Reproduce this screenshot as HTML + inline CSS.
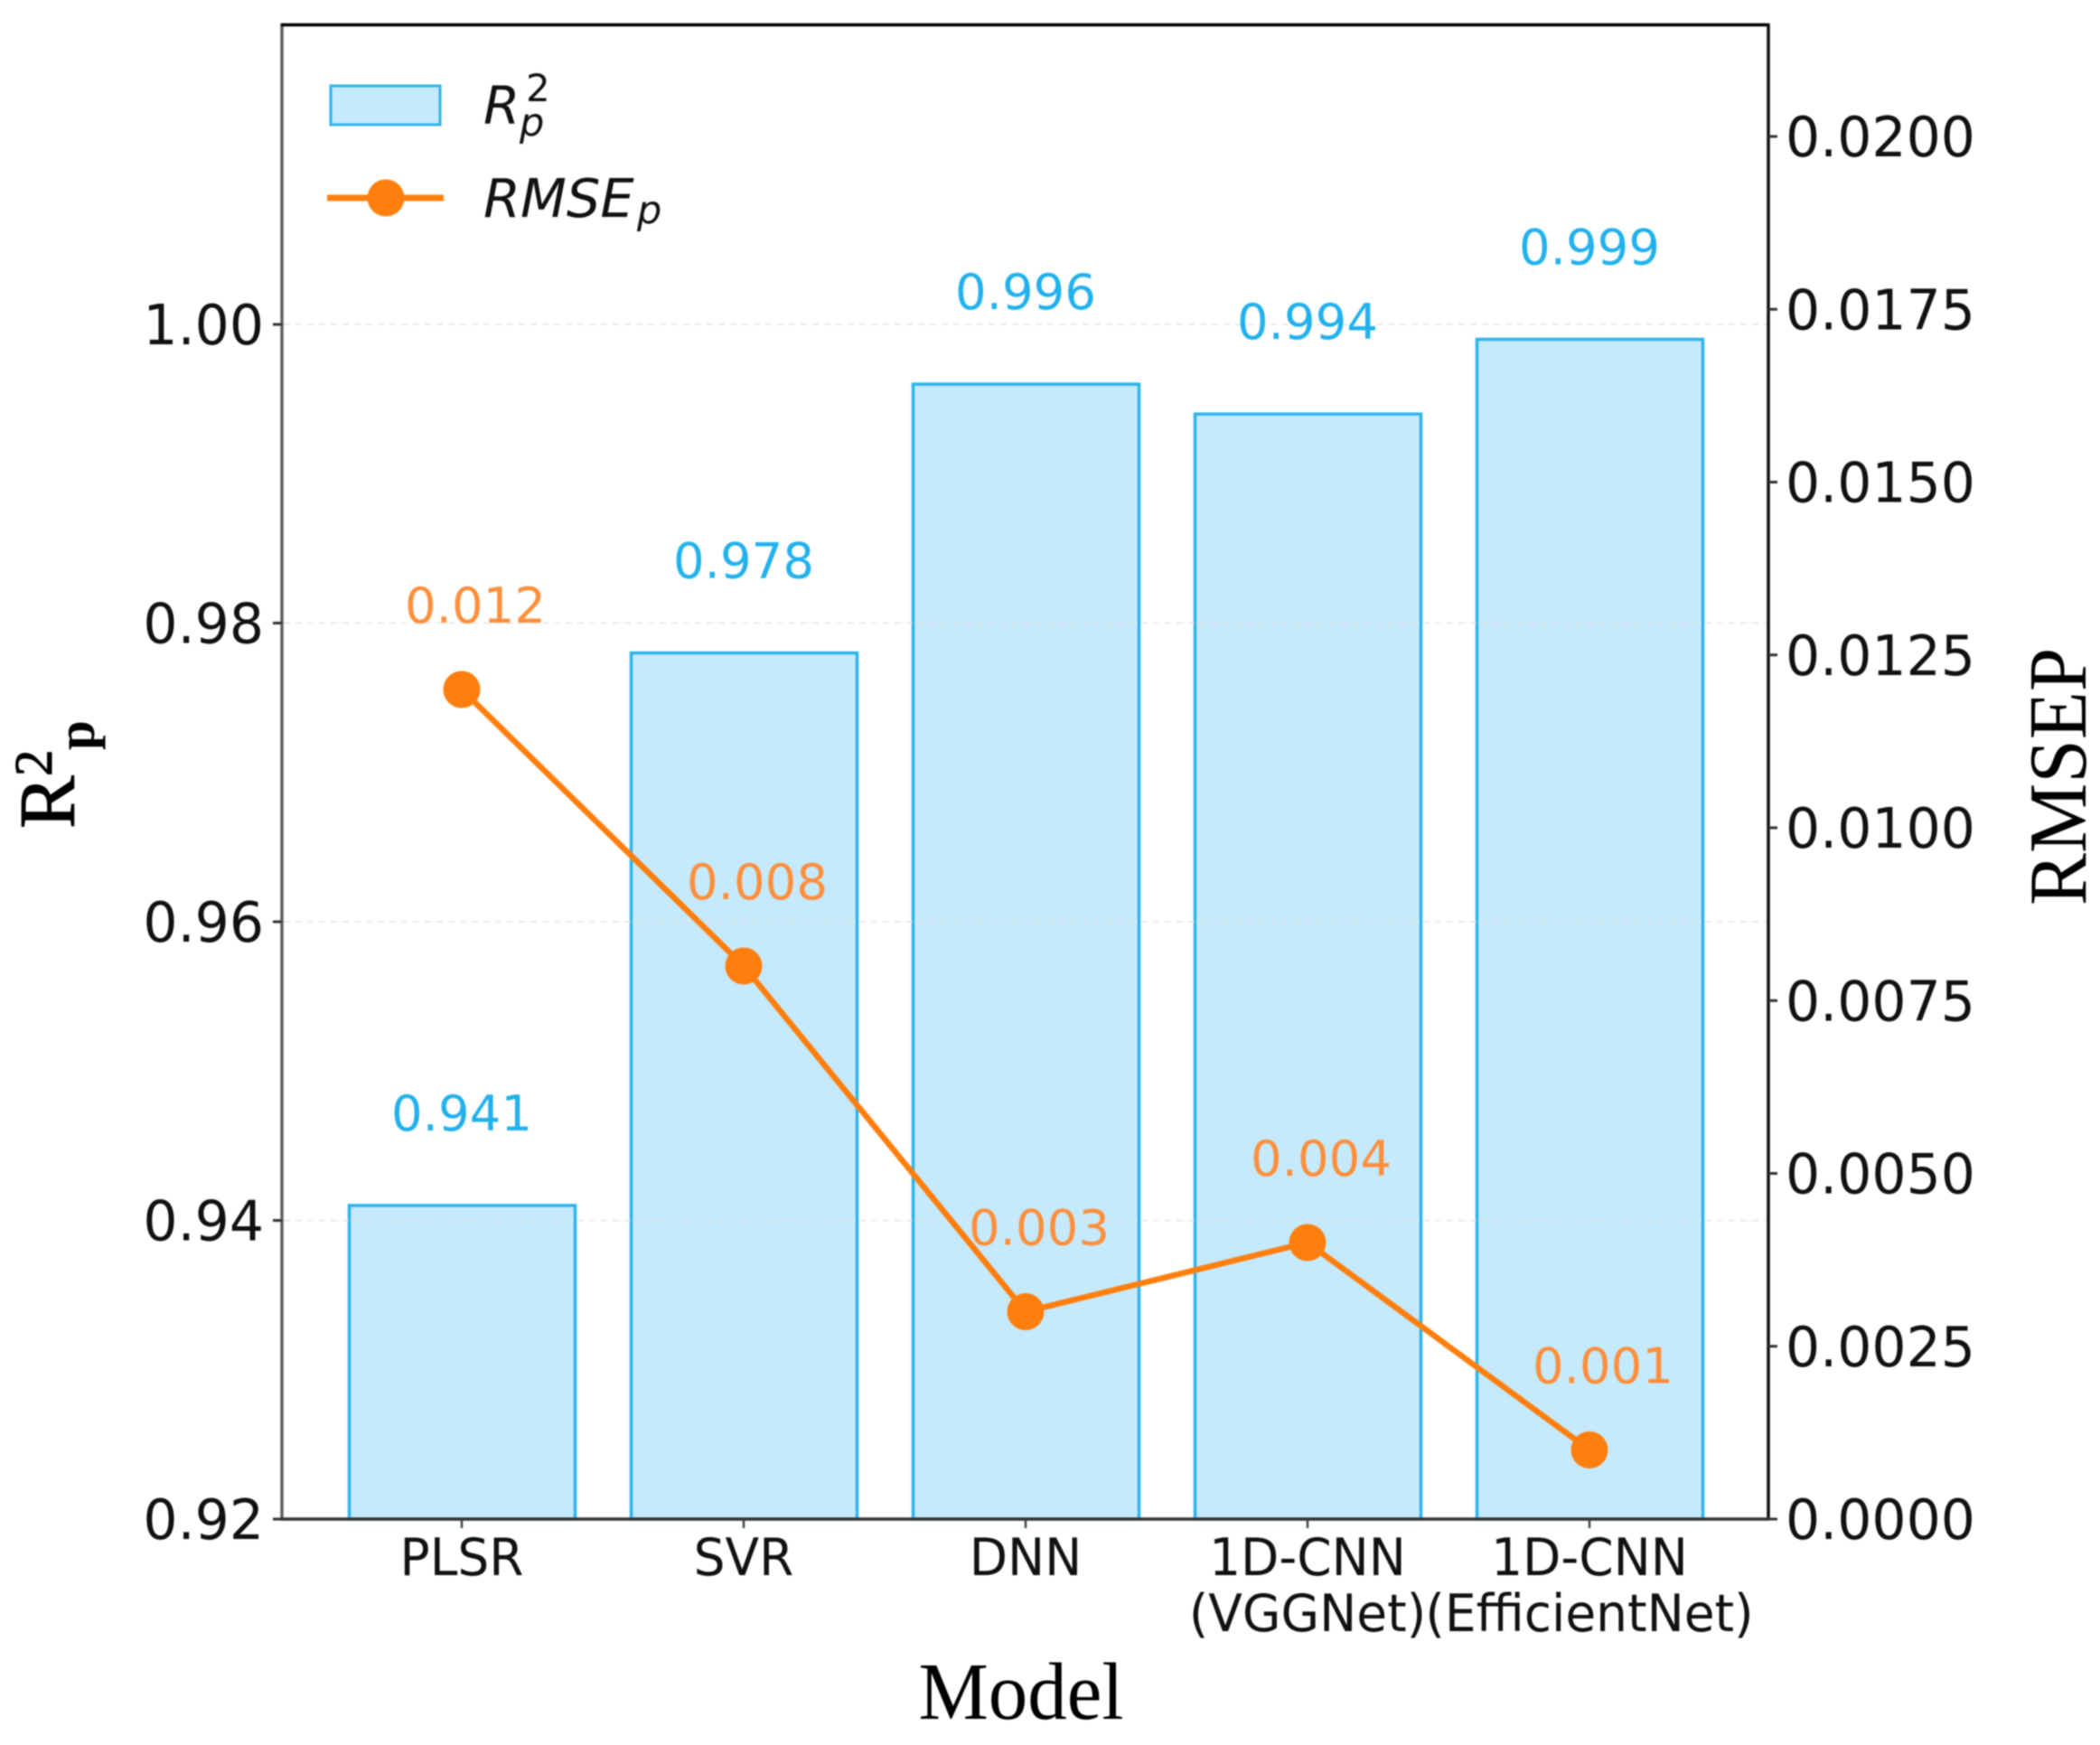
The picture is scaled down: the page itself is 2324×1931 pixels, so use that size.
<!DOCTYPE html>
<html lang="en">
<head>
<meta charset="utf-8">
<title>Model comparison chart</title>
<style>
html,body{margin:0;padding:0;background:#fff;width:2324px;height:1931px;overflow:hidden}
svg{display:block;filter:blur(0.9px)}
.dj{font-family:"DejaVu Sans","Liberation Sans",sans-serif}
.se{font-family:"Liberation Serif",serif;fill:#000}
</style>
</head>
<body>
<svg id="chart" xmlns="http://www.w3.org/2000/svg" width="2324" height="1931" viewBox="0 0 2324 1931">
  <rect x="312" y="27" width="1645" height="1654" fill="#fff"/>
  <g id="marks"></g>
  <g fill="none" stroke-width="3.5">
    <line x1="312" y1="26" x2="312" y2="1682" stroke="#5f5f5f"/>
    <line x1="311" y1="27.5" x2="1958" y2="27.5" stroke="#000"/>
    <line x1="1957" y1="26" x2="1957" y2="1682" stroke="#111"/>
    <line x1="311" y1="1681" x2="1958" y2="1681" stroke="#333"/>
  </g>
  <g id="ticks"></g>

  <g>
    <rect x="366" y="95" width="121" height="43" fill="#c5eafd" stroke="#2cb4ea" stroke-width="3"/>
    <text class="dj" x="535" y="137" font-size="58" font-style="italic" fill="#111">R</text>
    <text class="dj" x="582" y="112" font-size="42" fill="#111">2</text>
    <text class="dj" x="575" y="150" font-size="43" font-style="italic" fill="#111">p</text>
    <line x1="362" y1="219" x2="491" y2="219" stroke="#ff7f0e" stroke-width="7"/>
    <circle cx="427" cy="219" r="20.5" fill="#ff7f0e"/>
    <text class="dj" x="535" y="240" font-size="59" font-style="italic" fill="#111">RMSE</text>
    <text class="dj" x="705" y="247" font-size="43" font-style="italic" fill="#111">p</text>
  </g>

  <g transform="translate(82,917) rotate(-90)">
    <text class="se" x="0" y="0" font-size="88" stroke="#000" stroke-width="1">R</text>
    <text class="se" x="58" y="-25" font-size="59" stroke="#000" stroke-width="1">2</text>
    <text class="se" x="87" y="22" font-size="59" font-weight="bold">p</text>
  </g>
  <text class="se" transform="translate(2308,1002) rotate(-90) scale(1,1.05)" x="0" y="0" font-size="87">RMSEP</text>
  <text class="se" transform="translate(1130,1902) scale(1,1.03)" x="0" y="0" font-size="87" text-anchor="middle">Model</text>
</svg>

<script>
const categories = [["PLSR"], ["SVR"], ["DNN"], ["1D-CNN", "(VGGNet)"], ["1D-CNN", "(EfficientNet)"]];
const r2Values = [0.941, 0.978, 0.996, 0.994, 0.999];
const rmseValues = [0.012, 0.008, 0.003, 0.004, 0.001];
const r2Labels = ["0.941", "0.978", "0.996", "0.994", "0.999"];
const rmseLabels = ["0.012", "0.008", "0.003", "0.004", "0.001"];
const leftTicks = [0.92, 0.94, 0.96, 0.98, 1.00];
const leftTickLabels = ["0.92", "0.94", "0.96", "0.98", "1.00"];
const rightTicks = [0, 0.0025, 0.005, 0.0075, 0.01, 0.0125, 0.015, 0.0175, 0.02];
const rightTickLabels = ["0.0000", "0.0025", "0.0050", "0.0075", "0.0100", "0.0125", "0.0150", "0.0175", "0.0200"];

const NS = "http://www.w3.org/2000/svg";
const plotBottom = 1681;
const leftPxPerUnit = 16525;
const rightPxPerUnit = 76500;
const firstCenter = 511;
const bandStep = 312;
const barWidth = 250;

function xScale(i) { return firstCenter + i * bandStep; }
function yLeft(v) { return plotBottom - (v - 0.92) * leftPxPerUnit; }
function yRight(v) { return plotBottom - v * rightPxPerUnit; }

function mk(parent, tag, attrs, text) {
  const el = document.createElementNS(NS, tag);
  for (const k in attrs) el.setAttribute(k, attrs[k]);
  if (text !== undefined) el.textContent = text;
  parent.appendChild(el);
  return el;
}
function place(x, y, sy) { return "translate(" + x + "," + y + ") scale(1," + sy + ")"; }

const marks = document.getElementById("marks");
const ticks = document.getElementById("ticks");

r2Values.forEach(function (v, i) {
  const top = yLeft(v);
  const el = mk(marks, "rect", {
    x: xScale(i) - barWidth / 2 + 0.5, y: top, width: barWidth, height: plotBottom - top,
    fill: "#c5eafd", stroke: "#2cb4ea", "stroke-width": 3.5
  });
  
  
});

leftTicks.forEach(function (v, i) {
  if (i > 0) {
    const grid = mk(marks, "line", {
      x1: 314, x2: 1955, y1: yLeft(v), y2: yLeft(v),
      stroke: "#e4e4e4", "stroke-width": 2, "stroke-dasharray": "7 6", opacity: 0.75
    });
    
    
  }
  const t = mk(ticks, "line", {
    x1: 302, x2: 312, y1: yLeft(v), y2: yLeft(v), stroke: "#333", "stroke-width": 3
  });
  
  
  const lab = mk(ticks, "text", {
    class: "dj", transform: place(292, yLeft(v) + 22, 1.02),
    "font-size": 60, "text-anchor": "end", fill: "#111"
  }, leftTickLabels[i]);
  
  
});

rightTicks.forEach(function (v, i) {
  const t = mk(ticks, "line", {
    x1: 1957, x2: 1967, y1: yRight(v), y2: yRight(v), stroke: "#333", "stroke-width": 3
  });
  
  
  const lab = mk(ticks, "text", {
    class: "dj", transform: place(1976, yRight(v) + 22, 1.02),
    "font-size": 60, fill: "#111"
  }, rightTickLabels[i]);
  
  
});

categories.forEach(function (lines, i) {
  const t = mk(ticks, "line", {
    x1: xScale(i), x2: xScale(i), y1: plotBottom, y2: plotBottom + 10, stroke: "#444", "stroke-width": 2.5
  });
  
  
  lines.forEach(function (line, j) {
    const lab = mk(ticks, "text", {
      class: "dj", transform: place(xScale(i), 1743 + j * 62, 1.03),
      "font-size": 55, "text-anchor": "middle", fill: "#111"
    }, line);
    
    
  });
});

const linePoints = rmseValues.map(function (v, i) { return xScale(i) + "," + yRight(v); }).join(" ");
const rmseLine = mk(marks, "polyline", {
  points: linePoints, fill: "none", stroke: "#ff7f0e", "stroke-width": 6.5, "stroke-linejoin": "round"
});



rmseValues.forEach(function (v, i) {
  const dot = mk(marks, "circle", { cx: xScale(i), cy: yRight(v), r: 20.5, fill: "#ff7f0e" });
  
  
});

r2Values.forEach(function (v, i) {
  const lab = mk(marks, "text", {
    class: "dj", x: xScale(i), y: yLeft(v) - 83,
    "font-size": 54.5, "text-anchor": "middle", fill: "#22b1ec"
  }, r2Labels[i]);
  
  
});

rmseValues.forEach(function (v, i) {
  const lab = mk(marks, "text", {
    class: "dj", x: xScale(i) + 15, y: yRight(v) - 74,
    "font-size": 54.5, "text-anchor": "middle", fill: "#fd8f3c"
  }, rmseLabels[i]);
  
  
});
</script>
</body>
</html>
